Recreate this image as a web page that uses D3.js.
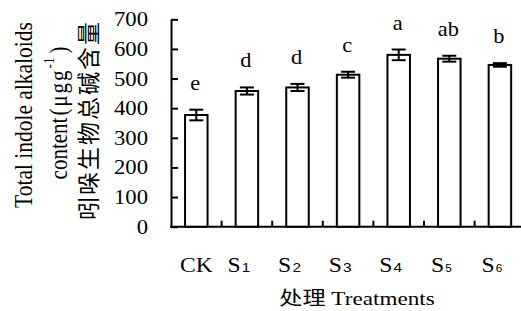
<!DOCTYPE html>
<html>
<head>
<meta charset="utf-8">
<script src="https://cdn.jsdelivr.net/npm/d3@7"></script>
<style>
  body { margin: 0; background: #fff; }
  svg { display: block; }
</style>
</head>
<body>
<svg id="chart"></svg>
<script>
// data
const categories = ["CK", "S1", "S2", "S3", "S4", "S5", "S6"];
const subscripts = ["", "1", "2", "3", "4", "5", "6"];
const values = [377, 458, 470, 513, 580, 567, 546];
const errors = [18, 12, 12, 10, 18, 10, 6];
const letters = ["e", "d", "d", "c", "a", "ab", "b"];
const yTicks = [0, 100, 200, 300, 400, 500, 600, 700];

const width = 521;
const height = 311;
const plotLeft = 171;
const plotBottom = 226.7;
const plotTop = 19.3;
const bandW = 50.6;

const svg = d3.select("#chart").attr("width", width).attr("height", height);

const x = d3.scaleBand()
  .domain(categories)
  .range([plotLeft, plotLeft + bandW * categories.length])
  .padding(0);

const y = d3.scaleLinear().domain([0, 700]).range([plotBottom, plotTop]);

const barW = 22.5;
const serif = "'Liberation Serif', 'Times New Roman', serif";

// helper: horizontally stretched text, the source picture is squeezed
const stretchText = (g, px, py, sx) =>
  g.append("text").attr("transform", "translate(" + px + "," + py + ") scale(" + sx + ",1)");

// y axis
const yAxis = svg.append("g")
  .attr("transform", "translate(" + plotLeft + ",0)")
  .call(d3.axisLeft(y).tickValues(yTicks).tickSize(-7).tickSizeOuter(0).tickFormat(""));
yAxis.selectAll("path, line").attr("stroke", "#000").attr("stroke-width", 2);

yTicks.forEach((t) => {
  stretchText(svg, 148, y(t) + 7, 1.08)
    .attr("text-anchor", "end")
    .attr("font-family", serif)
    .attr("font-size", 21)
    .text(t);
});

// x axis line and the ticks between categories
svg.append("line")
  .attr("x1", plotLeft - 1).attr("x2", width + 2)
  .attr("y1", plotBottom).attr("y2", plotBottom)
  .attr("stroke", "#000").attr("stroke-width", 2);

svg.selectAll(".xtick")
  .data(categories.slice(1))
  .enter()
  .append("line")
  .attr("class", "xtick")
  .attr("x1", (d) => x(d)).attr("x2", (d) => x(d))
  .attr("y1", plotBottom).attr("y2", plotBottom - 6)
  .attr("stroke", "#000").attr("stroke-width", 2);

// bars
svg.selectAll(".bar")
  .data(values)
  .enter()
  .append("rect")
  .attr("class", "bar")
  .attr("x", (d, i) => x(categories[i]) + x.bandwidth() / 2 - barW / 2)
  .attr("y", (d) => y(d))
  .attr("width", barW)
  .attr("height", (d) => plotBottom - y(d))
  .attr("fill", "#fff")
  .attr("stroke", "#000")
  .attr("stroke-width", 2);

// error bars
const capW = 14;
values.forEach((v, i) => {
  const cx = x(categories[i]) + x.bandwidth() / 2;
  const g = svg.append("g").attr("stroke", "#000").attr("stroke-width", 2);
  g.append("line").attr("x1", cx).attr("x2", cx).attr("y1", y(v + errors[i])).attr("y2", y(v - errors[i]));
  g.append("line").attr("x1", cx - capW / 2).attr("x2", cx + capW / 2).attr("y1", y(v + errors[i])).attr("y2", y(v + errors[i]));
  g.append("line").attr("x1", cx - capW / 2).attr("x2", cx + capW / 2).attr("y1", y(v - errors[i])).attr("y2", y(v - errors[i]));

  // significance letter
  stretchText(svg, cx - 1, y(v + errors[i]) - 20, 1.12)
    .attr("text-anchor", "middle")
    .attr("font-family", serif)
    .attr("font-size", 20)
    .text(letters[i]);
});

// category labels
categories.forEach((c, i) => {
  const cx = x(c) + x.bandwidth() / 2 + (i === 0 ? 0 : -8);
  const t = stretchText(svg, cx, 272, 1.18)
    .attr("text-anchor", "middle")
    .attr("font-family", serif)
    .attr("font-size", 20);
  t.append("tspan").text(c.charAt(0));
  if (subscripts[i]) {
    t.append("tspan")
      .attr("font-family", "'Liberation Sans', Arial, sans-serif")
      .attr("font-size", i >= 5 ? 10 : 13)
      .attr("dx", 1)
      .text(subscripts[i]);
  } else {
    t.append("tspan").text(c.slice(1));
  }
});

// x title
const xt = stretchText(svg, 357, 305, 1.22)
  .attr("text-anchor", "middle")
  .attr("font-family", serif)
  .attr("font-size", 19);
xt.append("tspan").attr("font-family", "'Noto Sans CJK SC', sans-serif").text("处理");
xt.append("tspan").text(" Treatments");

// y title, three rotated lines
svg.append("text")
  .attr("transform", "translate(31.5,115) scale(1.22,1) rotate(-90)")
  .attr("text-anchor", "middle")
  .attr("font-family", serif)
  .attr("font-size", 21.5)
  .text("Total indole alkaloids");

const yl2 = svg.append("text")
  .attr("transform", "translate(67,113) scale(1.15,1) rotate(-90)")
  .attr("text-anchor", "middle")
  .attr("font-family", serif)
  .attr("font-size", 21);
yl2.append("tspan").text("content");
yl2.append("tspan").attr("dx", 2).attr("letter-spacing", 2).text("(μgg");
yl2.append("tspan").attr("font-size", 13).attr("dx", 0).attr("dy", -11).text("-1");
yl2.append("tspan").attr("dx", 4).attr("dy", 11).text(")");

svg.append("text")
  .attr("transform", "translate(97,120) rotate(-90)")
  .attr("text-anchor", "middle")
  .attr("font-family", "'Noto Sans CJK SC', sans-serif")
  .attr("font-size", 23)
  .attr("letter-spacing", 2)
  .text("吲哚生物总碱含量");
</script>
</body>
</html>
